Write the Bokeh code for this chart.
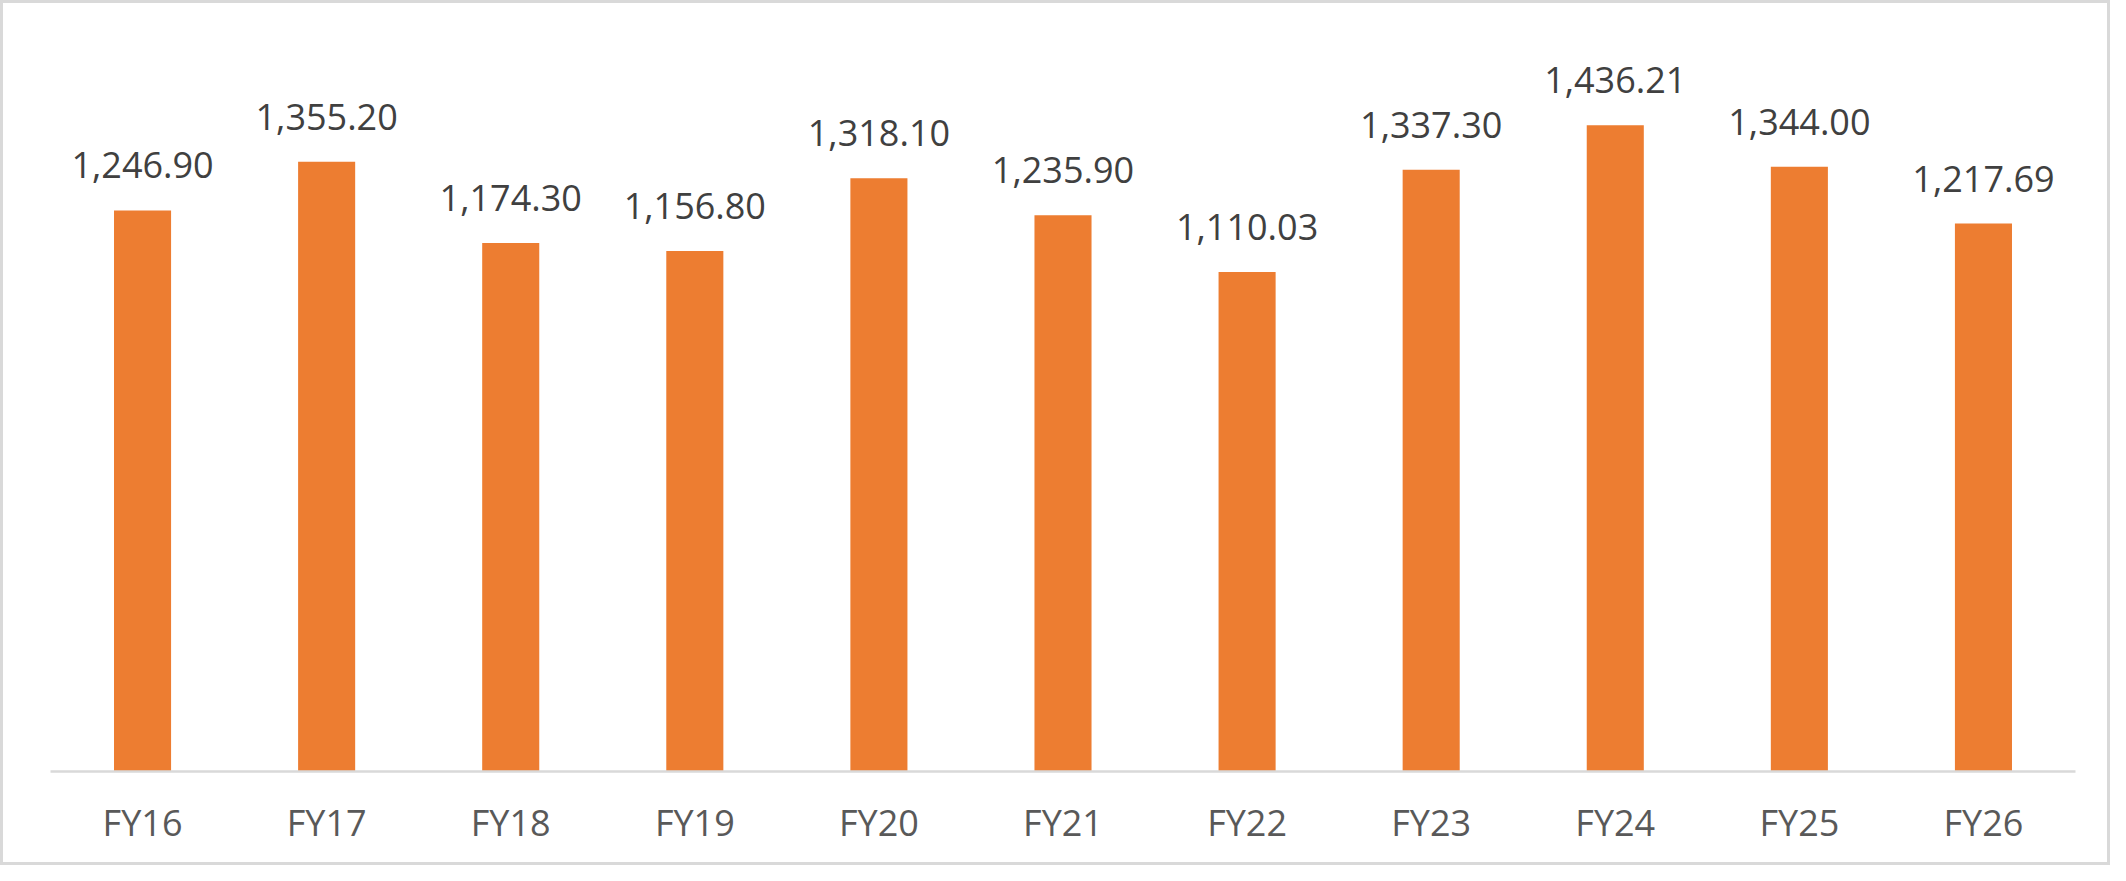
from bokeh.plotting import figure
from bokeh.models import ColumnDataSource, FactorRange
from bokeh.core.properties import value
from bokeh.embed import file_html
from bokeh.resources import INLINE

years = ["FY16", "FY17", "FY18", "FY19", "FY20", "FY21",
         "FY22", "FY23", "FY24", "FY25", "FY26"]
amounts = [1246.90, 1355.20, 1174.30, 1156.80, 1318.10, 1235.90,
           1110.03, 1337.30, 1436.21, 1344.00, 1217.69]
labels = [f"{v:,.2f}" for v in amounts]

source = ColumnDataSource(data=dict(year=years, amount=amounts, label=labels))

p = figure(x_range=FactorRange(factors=years, range_padding=0),
           y_range=(0, 1600),
           width=2110, height=865,
           output_backend="svg", toolbar_location=None,
           min_border_left=47, min_border_right=38,
           min_border_top=48, min_border_bottom=97)
p.styles = {"border": "3px solid #D9D9D9"}

p.vbar(x="year", top="amount", width=0.31, source=source,
       fill_color="#ED7D31", line_color=None)

p.text(x="year", y="amount", text="label", source=source,
       y_offset=-45, text_align="center", text_baseline="alphabetic",
       text_font=value("Open Sans"), text_font_size="36px",
       text_color="#404040")

p.yaxis.visible = False
p.xgrid.grid_line_color = None
p.ygrid.grid_line_color = None
p.outline_line_color = None
p.background_fill_color = "white"
p.border_fill_color = "white"

ax = p.xaxis[0]
ax.axis_line_color = "#D9D9D9"
ax.axis_line_width = 2.5
ax.major_tick_line_color = None
ax.minor_tick_line_color = None
ax.major_label_text_font = "Open Sans"
ax.major_label_text_font_size = "36px"
ax.major_label_text_color = "#595959"
ax.major_label_standoff = 20

open("out.html", "w").write(file_html(p, INLINE))
